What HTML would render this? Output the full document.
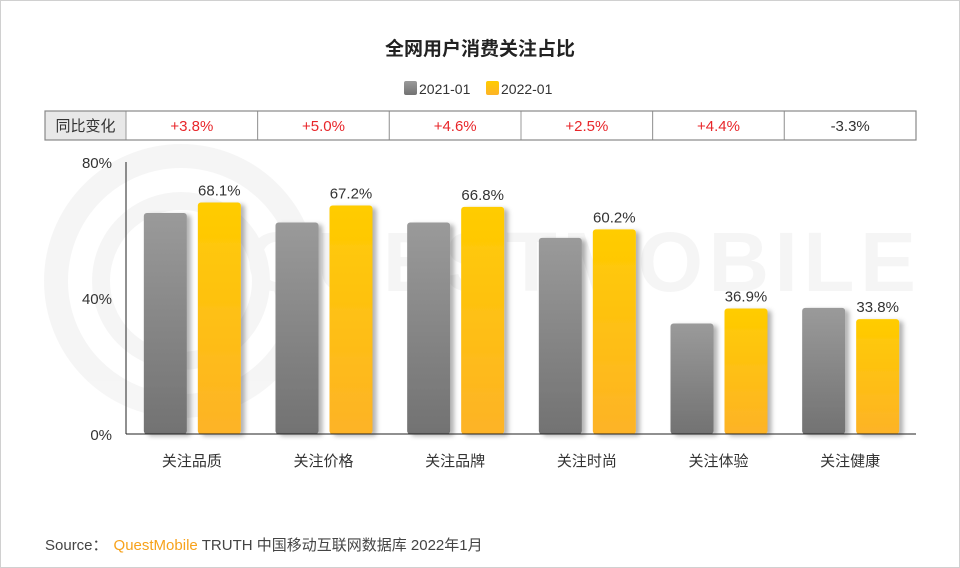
<!DOCTYPE html>
<html><head><meta charset="utf-8">
<style>
html,body{margin:0;padding:0;background:#fff;}
#wrap{position:relative;width:958px;height:566px;border:1px solid #d0d0d0;overflow:hidden;font-family:"Liberation Sans","Noto Sans CJK SC",sans-serif;}
svg text{font-family:"Liberation Sans","Noto Sans CJK SC",sans-serif;}
</style></head>
<body>
<div id="wrap">
<svg id="chart" width="958" height="566">
<defs>
<linearGradient id="gGray" x1="0" y1="0" x2="0" y2="1"><stop offset="0" stop-color="#9a9a9a"/><stop offset="1" stop-color="#727272"/></linearGradient>
<linearGradient id="gYel" x1="0" y1="0" x2="0" y2="1"><stop offset="0" stop-color="#ffcc00"/><stop offset="1" stop-color="#fdb327"/></linearGradient>
<filter id="sh" x="-20%" y="-10%" width="150%" height="120%"><feDropShadow dx="4" dy="2" stdDeviation="2.5" flood-color="#000" flood-opacity="0.3"/></filter>
</defs>
<g opacity="0.035">
<circle cx="180" cy="280" r="125" fill="none" stroke="#000" stroke-width="24"/>
<circle cx="180" cy="280" r="80" fill="none" stroke="#000" stroke-width="18"/>
<text x="245" y="290" font-size="84" font-weight="bold" fill="#000" textLength="670">QUESTMOBILE</text>
</g>
<text x="479" y="54" text-anchor="middle" font-size="19" font-weight="bold" fill="#222">全网用户消费关注占比</text>
<g>
<rect x="403" y="80" width="13" height="14" rx="2" fill="url(#gGray)"/>
<text x="418" y="93" font-size="14" fill="#333">2021-01</text>
<rect x="485" y="80" width="13" height="14" rx="2" fill="url(#gYel)"/>
<text x="500" y="93" font-size="14" fill="#333">2022-01</text>
</g>
<g id="table"></g>
<g id="plot"></g>
<text x="44" y="549" font-size="15" fill="#444">Source：<tspan fill="#f7a21b" dx="6">QuestMobile</tspan><tspan dx="4">TRUTH 中国移动互联网数据库 2022年1月</tspan></text>
</svg>
</div>
<script>
const categories=["关注品质","关注价格","关注品牌","关注时尚","关注体验","关注健康"];
const values2021=[65.0,62.2,62.2,57.7,32.5,37.1];
const values2022=[68.1,67.2,66.8,60.2,36.9,33.8];
const yoyLabels=["+3.8%","+5.0%","+4.6%","+2.5%","+4.4%","-3.3%"];
const yTicks=[0,40,80];
const NS="http://www.w3.org/2000/svg";
const x0=125,x1=915,yBase=433,yTop=161,yMax=80;
const band=(x1-x0)/categories.length;
const yS=v=>yBase-(v/yMax)*(yBase-yTop);
const xC=i=>x0+band*(i+0.5);
function mk(tag,attrs,parent){const e=document.createElementNS(NS,tag);for(const k in attrs)e.setAttribute(k,attrs[k]);parent.appendChild(e);return e;}
const tbl=document.getElementById('table');
const plot=document.getElementById('plot');
let hc=mk('rect',{x:44,y:110,width:81,height:29,fill:'#e8e8e8',stroke:'#888','stroke-width':1},tbl);


let ht=mk('text',{x:84.5,y:130,'text-anchor':'middle','font-size':15,fill:'#333'},tbl);ht.textContent='同比变化';


categories.forEach((c,i)=>{
  const r=mk('rect',{x:x0+band*i,y:110,width:band,height:29,fill:'#fff',stroke:'#999','stroke-width':1},tbl);
  
  
  const t=mk('text',{x:xC(i),y:130,'text-anchor':'middle','font-size':15,fill:yoyLabels[i].startsWith('-')?'#333':'#e8262a'},tbl);
  t.textContent=yoyLabels[i];
  
  
});
mk('rect',{x:44,y:110,width:871,height:29,fill:'none',stroke:'#888','stroke-width':1.2},tbl);
yTicks.forEach(v=>{
  const t=mk('text',{x:111,y:yS(v)+6,'text-anchor':'end','font-size':15,fill:'#333'},plot);
  t.textContent=v+'%';
  
  
});
const bw=43;
categories.forEach((c,i)=>{
  const cx=xC(i);
  const gx=cx-48,yx=cx+6;
  const g=mk('rect',{x:gx,y:yS(values2021[i]),width:bw,height:yBase-yS(values2021[i]),rx:3,fill:'url(#gGray)',filter:'url(#sh)'},plot);
  
  
  const y=mk('rect',{x:yx,y:yS(values2022[i]),width:bw,height:yBase-yS(values2022[i]),rx:3,fill:'url(#gYel)',filter:'url(#sh)'},plot);
  
  
  const l=mk('text',{x:yx+bw/2,y:yS(values2022[i])-7,'text-anchor':'middle','font-size':15,fill:'#333'},plot);
  l.textContent=values2022[i].toFixed(1)+'%';
  
  
  const cl=mk('text',{x:cx,y:465,'text-anchor':'middle','font-size':15,fill:'#333'},plot);
  cl.textContent=c;
  
  
});
const ya=mk('line',{x1:x0,y1:yTop,x2:x0,y2:yBase,stroke:'#222','stroke-width':1},plot);


const xa=mk('line',{x1:x0,y1:yBase,x2:x1,y2:yBase,stroke:'#222','stroke-width':1},plot);


</script>
</body></html>
